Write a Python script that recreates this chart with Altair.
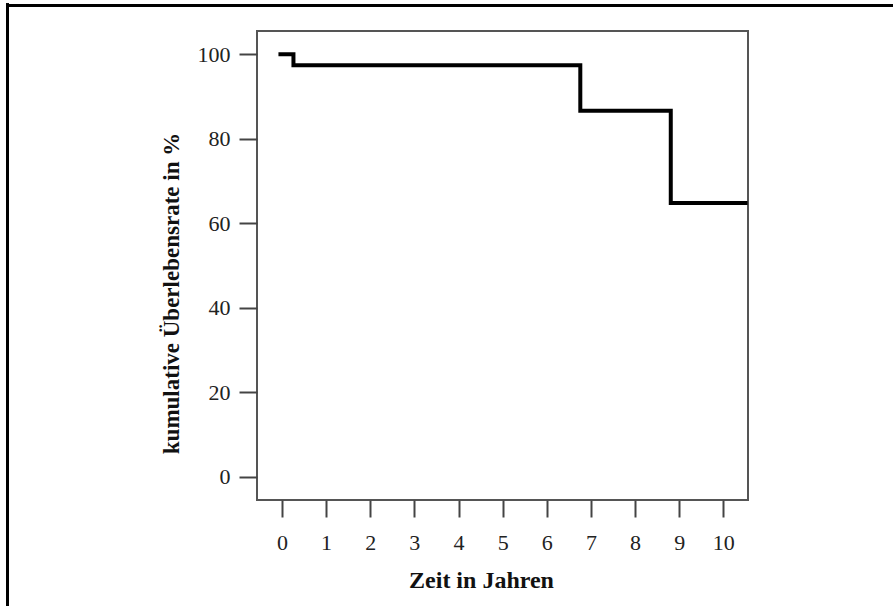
import altair as alt
import pandas as pd

# Kaplan-Meier style step curve
years = [-0.08, 0.26, 6.76, 8.81, 10.55]
survival = [100.0, 97.4, 86.6, 64.8, 64.8]
x_ticks = [0, 1, 2, 3, 4, 5, 6, 7, 8, 9, 10]
y_ticks = [0, 20, 40, 60, 80, 100]

df = pd.DataFrame({"Zeit": years, "Rate": survival})

FONT = "Liberation Serif"

x_axis = alt.Axis(
    values=x_ticks, title="Zeit in Jahren", grid=False, domain=False,
    tickSize=17, tickWidth=2, tickColor="#444", labelFont=FONT, labelFontSize=22,
    labelColor="#222", labelPadding=15, titleFont=FONT, titleFontSize=24,
    titleFontWeight="bold", titleColor="#111", titleX=224, titleY=80,
    titleBaseline="middle", labelFlush=False,
)
y_axis = alt.Axis(
    values=y_ticks, title="kumulative Überlebensrate in %", grid=False, domain=False,
    tickSize=18, tickWidth=2, tickColor="#444", labelFont=FONT, labelFontSize=22,
    labelColor="#222", labelPadding=9, titleFont=FONT, titleFontSize=23,
    titleFontWeight="bold", titleColor="#111", titleX=-86, titleY=262,
    titleBaseline="middle", labelFlush=False,
)

curve = alt.Chart(df).mark_line(
    interpolate="step-after", color="black", strokeWidth=4, strokeJoin="miter"
).encode(
    x=alt.X("Zeit:Q", scale=alt.Scale(domain=[-0.566, 10.56], nice=False, zero=False), axis=x_axis),
    y=alt.Y("Rate:Q", scale=alt.Scale(domain=[-5.53, 105.5], nice=False, zero=False), axis=y_axis),
)

# decorative outer frame (left and top edges of the cropped figure)
frame_left = alt.Chart(df).mark_rule(color="black", strokeWidth=3).encode(
    x=alt.value(-249.5), y=alt.value(-27.5), y2=alt.value(600)
)
frame_top = alt.Chart(df).mark_rule(color="black", strokeWidth=3).encode(
    x=alt.value(-251), x2=alt.value(650), y=alt.value(-25.5)
)

chart = alt.layer(curve, frame_left, frame_top).properties(
    width=491, height=469,
    autosize=alt.AutoSizeParams(type="none"),
    padding={"left": 257, "top": 31, "right": 145, "bottom": 106},
    background="white",
).configure_view(stroke="#555", strokeWidth=2)

chart.save("out.html", embed_options={"renderer": "svg", "actions": False})
